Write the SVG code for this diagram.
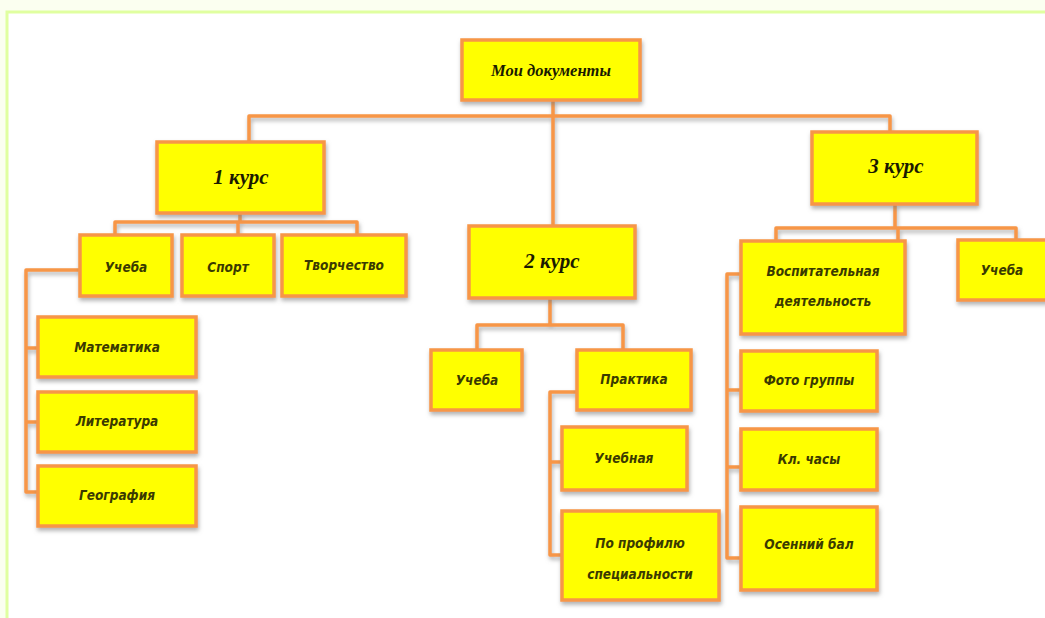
<svg xmlns="http://www.w3.org/2000/svg" width="1045" height="618" viewBox="0 0 1045 618">
<defs>
<filter id="sh" x="-10%" y="-10%" width="125%" height="130%">
<feDropShadow dx="1" dy="3" stdDeviation="2" flood-color="#7f7f7f" flood-opacity="0.6"/>
</filter>
<style>
.box{fill:#ffff00;stroke:#f79646;stroke-width:3.5;filter:url(#sh)}
.ln{fill:none;stroke:#f79646;stroke-width:3.5;stroke-linejoin:round}
.h{font-family:"Liberation Serif","DejaVu Serif",serif;font-style:italic;font-weight:bold;fill:#1a1a00;text-anchor:middle}
.t{font-family:"DejaVu Sans Condensed","DejaVu Sans","Noto Sans",sans-serif;font-stretch:condensed;font-style:italic;font-weight:bold;font-size:13.5px;fill:#3a3a00;text-anchor:middle}
</style>
</defs>
<rect x="0" y="0" width="1045" height="618" fill="#fbfff0"/>
<rect x="7" y="12" width="1050" height="620" fill="#ffffff" stroke="#e0ffa0" stroke-width="3"/>
<g id="connectors" filter="url(#sh)">
<path class="ln" d="M553 100 V226 M249 142 V116 H890 V132"/>
<path class="ln" d="M240 213 V222 M115 235 V222 H357 V235 M238 222 V235"/>
<path class="ln" d="M80 270 H26 V492 H38 M26 348 H38 M26 422 H38"/>
<path class="ln" d="M550 298 V325 M477 350 V325 H623 V350"/>
<path class="ln" d="M577 392 H550 V555 H562 M550 462 H562"/>
<path class="ln" d="M895 204 V228 M776 241 V228 H1016 V240 M898 228 V241"/>
<path class="ln" d="M741 274 H727 V558 H741 M727 390 H741 M727 467 H741"/>
</g>
<g id="root"><rect class="box" x="462" y="40" width="178" height="60"/><text class="h" x="551" y="76" font-size="16.5">Мои документы</text></g>
<g id="k1"><rect class="box" x="157" y="142" width="167" height="71"/><text class="h" x="241" y="184" font-size="21">1 курс</text></g>
<g id="k2"><rect class="box" x="469" y="226" width="166" height="72"/><text class="h" x="552" y="268" font-size="21">2 курс</text></g>
<g id="k3"><rect class="box" x="812" y="132" width="165" height="72"/><text class="h" x="896" y="173" font-size="21">3 курс</text></g>
<g id="ucheba1"><rect class="box" x="80" y="235" width="92" height="61"/><text class="t" x="126" y="272">Учеба</text></g>
<g id="sport"><rect class="box" x="182" y="235" width="92" height="61"/><text class="t" x="228" y="272">Спорт</text></g>
<g id="tvorch"><rect class="box" x="282" y="235" width="124" height="61"/><text class="t" x="344" y="270">Творчество</text></g>
<g id="matem"><rect class="box" x="38" y="317" width="158" height="60"/><text class="t" x="117" y="352">Математика</text></g>
<g id="liter"><rect class="box" x="38" y="392" width="158" height="60"/><text class="t" x="117" y="426">Литература</text></g>
<g id="geogr"><rect class="box" x="38" y="466" width="158" height="60"/><text class="t" x="117" y="500">География</text></g>
<g id="ucheba2"><rect class="box" x="431" y="350" width="91" height="60"/><text class="t" x="477" y="385">Учеба</text></g>
<g id="praktika"><rect class="box" x="577" y="350" width="114" height="60"/><text class="t" x="634" y="384">Практика</text></g>
<g id="uchebnaya"><rect class="box" x="562" y="427" width="125" height="63"/><text class="t" x="624" y="463">Учебная</text></g>
<g id="profil"><rect class="box" x="562" y="511" width="157" height="89"/><text class="t" x="640" y="548">По профилю</text><text class="t" x="640" y="579">специальности</text></g>
<g id="vospit"><rect class="box" x="741" y="241" width="164" height="93"/><text class="t" x="823" y="276">Воспитательная</text><text class="t" x="823" y="306">деятельность</text></g>
<g id="ucheba3"><rect class="box" x="958" y="240" width="92" height="60"/><text class="t" x="1002" y="275">Учеба</text></g>
<g id="foto"><rect class="box" x="741" y="351" width="136" height="60"/><text class="t" x="809" y="385">Фото группы</text></g>
<g id="klchasy"><rect class="box" x="741" y="429" width="136" height="61"/><text class="t" x="809" y="464">Кл. часы</text></g>
<g id="osen"><rect class="box" x="741" y="507" width="136" height="83"/><text class="t" x="809" y="549">Осенний бал</text></g>
</svg>
